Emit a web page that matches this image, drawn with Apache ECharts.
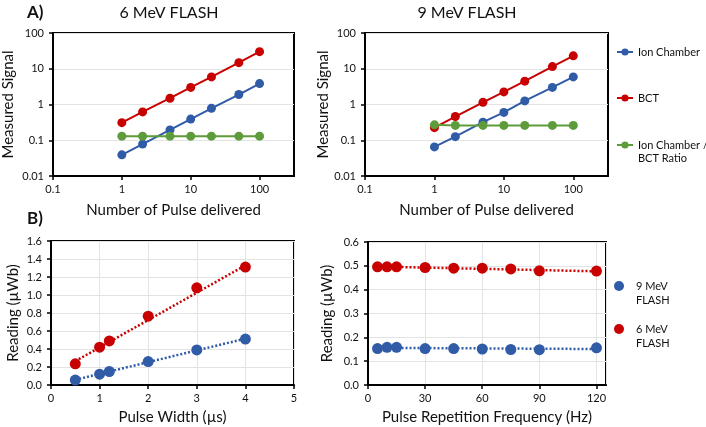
<!DOCTYPE html>
<html>
<head>
<meta charset="utf-8">
<script src="https://cdn.jsdelivr.net/npm/echarts@6/dist/echarts.min.js"></script>
<style>
html,body{margin:0;padding:0;background:#fff;}
#chart{width:706px;height:427px;}
</style>
</head>
<body>
<div id="chart"></div>
<script>
// ---- Data ----
const pulses = [1, 2, 5, 10, 20, 50, 100];
const ion6 = [0.039, 0.078, 0.195, 0.39, 0.78, 1.9, 3.85];
const bct6 = [0.31, 0.62, 1.5, 3.0, 5.9, 14.8, 30];
const ratio6 = [0.13, 0.13, 0.13, 0.13, 0.13, 0.13, 0.13];
const ion9 = [0.065, 0.126, 0.32, 0.6, 1.26, 3.0, 5.9];
const bct9 = [0.225, 0.46, 1.15, 2.25, 4.5, 11.5, 23];
const ratio9 = [0.27, 0.26, 0.26, 0.26, 0.26, 0.26, 0.26];

const widths = [0.5, 1, 1.2, 2, 3, 4];
const width6 = [0.235, 0.42, 0.49, 0.765, 1.08, 1.31];
const width9 = [0.055, 0.12, 0.15, 0.26, 0.39, 0.51];
const widthTrendX = [0.5, 4];
const widthTrend6 = [0.265, 1.33];
const widthTrend9 = [0.058, 0.515];

const freqs = [5, 10, 15, 30, 45, 60, 75, 90, 120];
const freq6 = [0.496, 0.496, 0.496, 0.493, 0.490, 0.490, 0.487, 0.479, 0.478];
const freq9 = [0.153, 0.158, 0.158, 0.153, 0.153, 0.151, 0.149, 0.148, 0.156];
const freqTrendX = [5, 120];
const freqTrend6 = [0.497, 0.477];
const freqTrend9 = [0.156, 0.151];

const seriesNames = ['Ion Chamber', 'BCT', 'Ion Chamber / BCT Ratio'];
const energyNames = ['9 MeV FLASH', '6 MeV FLASH'];

// ---- Styles ----
const FONT = 'Lato';
const BLUE = '#2F5BA7';
const RED = '#C80000';
const GREEN = '#5E9B3A';
const GRIDC = '#e3e3e3';

const zip = (xs, ys) => xs.map((x, i) => [x, ys[i]]);
const fmtLog = v => String(+(+v).toPrecision(3));

function lineSeries(name, color, xi, yi, xs, ys) {
  return {
    type: 'line', name, xAxisIndex: xi, yAxisIndex: yi,
    data: zip(xs, ys), symbol: 'circle', symbolSize: 9,
    itemStyle: { color, opacity: 1 }, lineStyle: { color, width: 2 },
    emphasis: { disabled: true }, animation: false
  };
}
function scatterSeries(name, color, xi, yi, xs, ys) {
  return {
    type: 'scatter', name, xAxisIndex: xi, yAxisIndex: yi,
    data: zip(xs, ys), symbol: 'circle', symbolSize: 11, z: 3,
    itemStyle: { color, opacity: 1 }, emphasis: { disabled: true }, animation: false
  };
}
function trendSeries(color, xi, yi, xs, ys) {
  return {
    type: 'line', name: 'trend', xAxisIndex: xi, yAxisIndex: yi,
    data: zip(xs, ys), symbol: 'none', z: 2,
    lineStyle: { color, width: 2.5, type: [2, 2] },
    emphasis: { disabled: true }, animation: false
  };
}

const axisLine = { show: true, lineStyle: { color: '#000', width: 2 } };
const axisTick = { show: true, length: 4, lineStyle: { color: '#000', width: 1.5 } };
const labelStyle = { fontFamily: FONT, fontSize: 11, color: '#111' };
const nameStyle = { fontFamily: FONT, fontSize: 15, color: '#111' };

function logX(gi, nameGap) {
  return {
    type: 'log', logBase: 10, gridIndex: gi, min: 0.1, max: 316.2278,
    name: 'Number of Pulse delivered', nameLocation: 'middle', nameGap,
    nameTextStyle: nameStyle, axisLine, axisTick,
    axisLabel: Object.assign({ margin: 8, showMaxLabel: false, formatter: fmtLog }, labelStyle),
    splitLine: { show: false }, minorTick: { show: false }
  };
}
function logY(gi, nameGap) {
  return {
    type: 'log', logBase: 10, gridIndex: gi, min: 0.01, max: 100,
    name: 'Measured Signal', nameLocation: 'middle', nameGap,
    nameTextStyle: nameStyle, axisLine, axisTick,
    axisLabel: Object.assign({ margin: 9, formatter: fmtLog }, labelStyle),
    splitLine: { show: true, lineStyle: { color: GRIDC, width: 1 } }
  };
}

const gridBase = { show: true, borderColor: '#000', borderWidth: 2, containLabel: false };

const option = {
  backgroundColor: '#fff',
  animation: false,
  textStyle: { fontFamily: FONT },
  grid: [
    Object.assign({ left: 52, top: 33, width: 242, height: 143 }, gridBase),
    Object.assign({ left: 365, top: 33, width: 243, height: 143 }, gridBase),
    Object.assign({ left: 51, top: 241, width: 243, height: 144 }, gridBase),
    Object.assign({ left: 368, top: 242, width: 238, height: 143 }, gridBase)
  ],
  xAxis: [
    logX(0, 27),
    logX(1, 27),
    {
      type: 'value', gridIndex: 2, min: 0, max: 5, interval: 1,
      name: 'Pulse Width (µs)', nameLocation: 'middle', nameGap: 25,
      nameTextStyle: nameStyle, axisLine, axisTick,
      axisLabel: Object.assign({ margin: 8 }, labelStyle),
      splitLine: { show: true, lineStyle: { color: GRIDC, width: 1 } }
    },
    {
      type: 'value', gridIndex: 3, min: 0, max: 125, interval: 30,
      name: 'Pulse Repetition Frequency (Hz)', nameLocation: 'middle', nameGap: 25,
      nameTextStyle: nameStyle, axisLine, axisTick,
      axisLabel: Object.assign({ margin: 8, showMaxLabel: false }, labelStyle),
      splitLine: { show: true, lineStyle: { color: GRIDC, width: 1 } }
    }
  ],
  yAxis: [
    logY(0, 37),
    logY(1, 26),
    {
      type: 'value', gridIndex: 2, min: 0, max: 1.6, interval: 0.2,
      name: 'Reading (µWb)', nameLocation: 'middle', nameGap: 30,
      nameTextStyle: nameStyle, axisLine, axisTick,
      axisLabel: Object.assign({ margin: 9, formatter: v => v.toFixed(1) }, labelStyle),
      splitLine: { show: true, lineStyle: { color: GRIDC, width: 1 } }
    },
    {
      type: 'value', gridIndex: 3, min: 0, max: 0.6, interval: 0.1,
      name: 'Reading (µWb)', nameLocation: 'middle', nameGap: 33,
      nameTextStyle: nameStyle, axisLine, axisTick,
      axisLabel: Object.assign({ margin: 9, formatter: v => v.toFixed(1) }, labelStyle),
      splitLine: { show: true, lineStyle: { color: GRIDC, width: 1 } }
    }
  ],
  legend: [
    {
      data: [seriesNames[0], seriesNames[1]], orient: 'vertical', padding: 0,
      left: 616, top: 45.5, itemGap: 33, itemWidth: 16, itemHeight: 9,
      selectedMode: false,
      textStyle: { fontFamily: FONT, fontSize: 11, color: '#111', lineHeight: 13 }
    },
    {
      data: [seriesNames[2]], orient: 'vertical', padding: 0,
      left: 616, top: 125.5, width: 90, itemWidth: 16, itemHeight: 9,
      selectedMode: false,
      formatter: () => '\nIon Chamber /\nBCT Ratio',
      textStyle: { fontFamily: FONT, fontSize: 11, color: '#111', lineHeight: 13, width: 70, overflow: 'none' }
    },
    {
      data: energyNames, orient: 'vertical', padding: 0,
      left: 614, top: 265, itemGap: 1, itemWidth: 10, itemHeight: 10, icon: 'circle',
      selectedMode: false,
      formatter: n => '\n' + n.replace(' FLASH', '\nFLASH'),
      textStyle: { fontFamily: FONT, fontSize: 11, color: '#111', lineHeight: 14, padding: [0, 0, 0, 7] }
    }
  ],
  graphic: [
    { type: 'text', x: 27, y: 13, style: { text: 'A)', font: 'bold 17px ' + FONT, fill: '#111', textVerticalAlign: 'middle' } },
    { type: 'text', x: 169, y: 13, style: { text: '6 MeV FLASH', font: '16px ' + FONT, fill: '#111', textAlign: 'center', textVerticalAlign: 'middle' } },
    { type: 'text', x: 467, y: 13, style: { text: '9 MeV FLASH', font: '16px ' + FONT, fill: '#111', textAlign: 'center', textVerticalAlign: 'middle' } },
    { type: 'text', x: 27, y: 219, style: { text: 'B)', font: 'bold 17px ' + FONT, fill: '#111', textVerticalAlign: 'middle' } }
  ],
  series: [
    lineSeries(seriesNames[0], BLUE, 0, 0, pulses, ion6),
    lineSeries(seriesNames[1], RED, 0, 0, pulses, bct6),
    lineSeries(seriesNames[2], GREEN, 0, 0, pulses, ratio6),
    lineSeries(seriesNames[0], BLUE, 1, 1, pulses, ion9),
    lineSeries(seriesNames[1], RED, 1, 1, pulses, bct9),
    lineSeries(seriesNames[2], GREEN, 1, 1, pulses, ratio9),
    trendSeries(RED, 2, 2, widthTrendX, widthTrend6),
    trendSeries(BLUE, 2, 2, widthTrendX, widthTrend9),
    scatterSeries(energyNames[1], RED, 2, 2, widths, width6),
    scatterSeries(energyNames[0], BLUE, 2, 2, widths, width9),
    trendSeries(RED, 3, 3, freqTrendX, freqTrend6),
    trendSeries(BLUE, 3, 3, freqTrendX, freqTrend9),
    scatterSeries(energyNames[1], RED, 3, 3, freqs, freq6),
    scatterSeries(energyNames[0], BLUE, 3, 3, freqs, freq9)
  ]
};

const chart = echarts.init(document.getElementById('chart'), null, { renderer: 'canvas' });
chart.setOption(option);
</script>
</body>
</html>
